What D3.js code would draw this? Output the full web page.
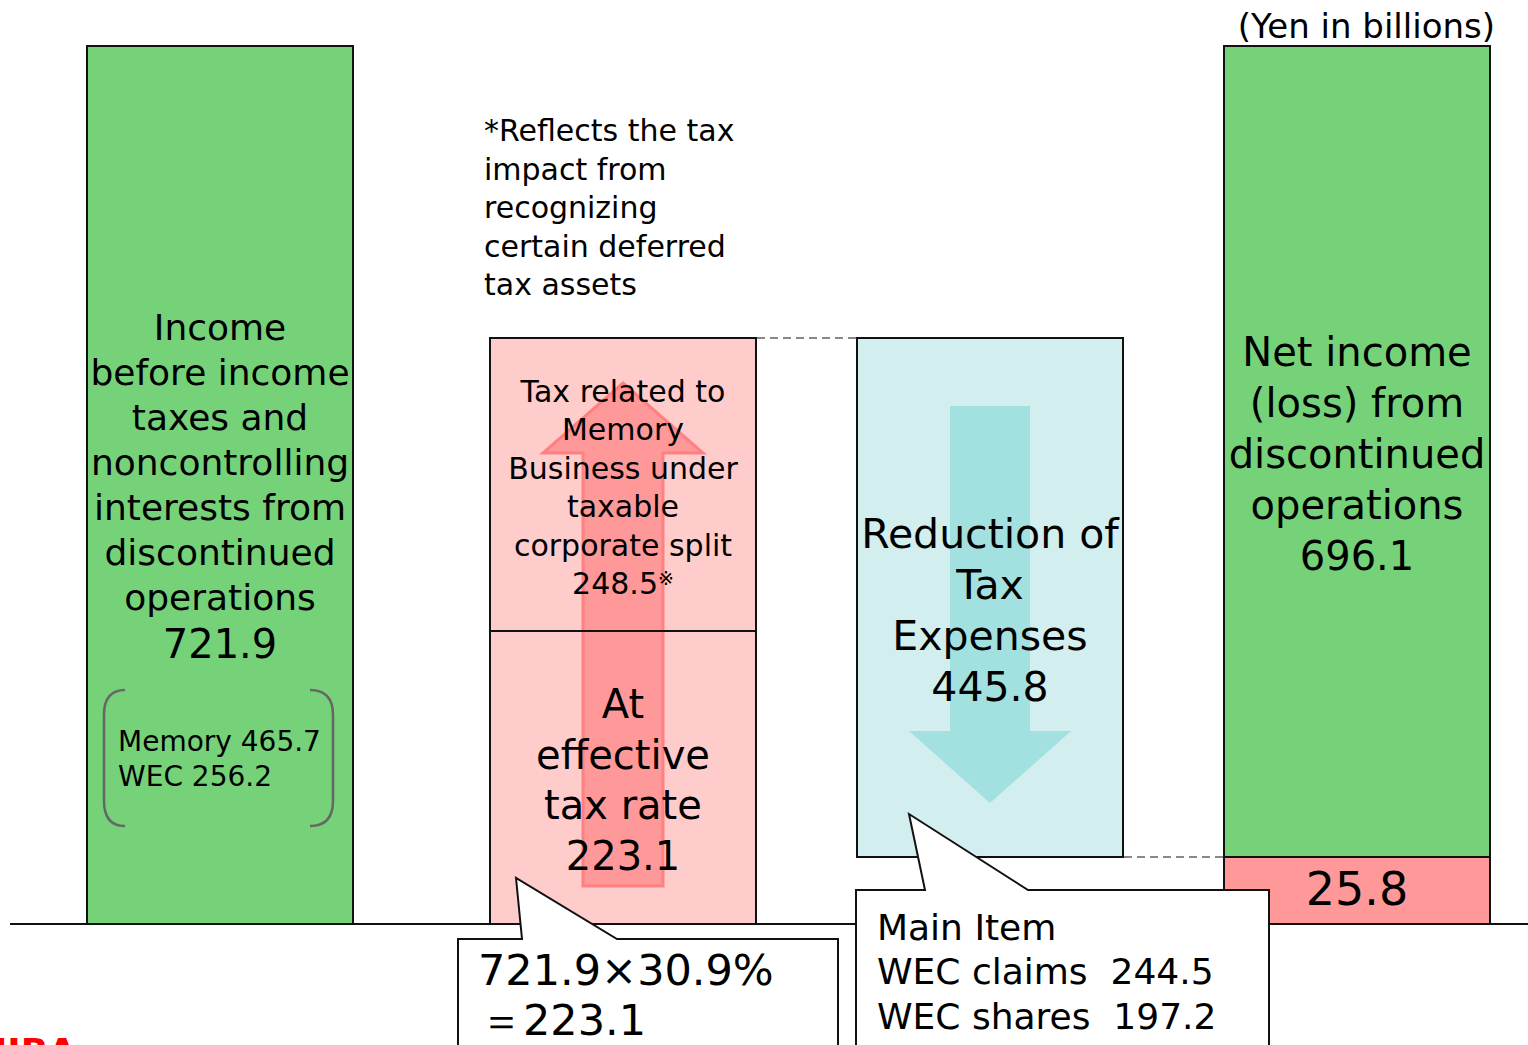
<!DOCTYPE html>
<html>
<head>
<meta charset="utf-8">
<script src="https://cdn.jsdelivr.net/npm/d3@7"></script>
<style>
	body { margin: 0; background: #fff; }
	svg { display: block; font-family: "DejaVu Sans", Verdana, sans-serif; }
	.pre { white-space: pre; }
</style>
</head>
<body>
<div id="chart"></div>
<script>
var steps = ["income", "tax", "reduction", "net"],
	incomeTotal = 721.9,
	incomeParts = [465.7, 256.2],      // Memory, WEC
	incomePartNames = ["Memory", "WEC"],
	taxParts = [223.1, 248.5],         // at effective tax rate, memory split
	effectiveRate = 30.9,
	reductionTotal = 445.8,
	reductionItems = [244.5, 197.2],   // WEC claims, WEC shares
	reductionNames = ["WEC claims", "WEC shares"],
	netParts = [25.8, 696.1];          // net tax expense, net income

var SVGwidth = 1528,
	SVGheight = 1045,
	barW = 266,
	green = "#75d279",
	pink = "#ffcccc",
	red = "#ff9999",
	cyan = "#d2eeee";

var taxTotal = taxParts[0] + taxParts[1];

var svg = d3.select("#chart").append("svg")
	.attr("width", SVGwidth)
	.attr("height", SVGheight);

// schematic, not to scale: piecewise linear through the stacked stops
var yScale = d3.scaleLinear()
	.domain([0, netParts[0], taxParts[0], taxTotal, incomeTotal])
	.range([924, 857, 631, 338, 46]);

var xScale = d3.scaleOrdinal()
	.domain(steps)
	.range([87, 490, 857, 1224]);

function cx(s) { return xScale(s) + barW / 2; }

var bars = [
	{step: "income", y0: 0, y1: incomeTotal, fill: green},
	{step: "tax", y0: 0, y1: taxParts[0], fill: pink},
	{step: "tax", y0: taxParts[0], y1: taxTotal, fill: pink},
	{step: "reduction", y0: taxTotal - reductionTotal, y1: taxTotal, fill: cyan},
	{step: "net", y0: 0, y1: netParts[0], fill: red},
	{step: "net", y0: netParts[0], y1: netParts[0] + netParts[1], fill: green}
];

// bar fills
svg.append("g").selectAll("rect")
	.data(bars)
	.enter().append("rect")
	.attr("x", function(d) { return xScale(d.step); })
	.attr("y", function(d) { return yScale(d.y1); })
	.attr("width", barW)
	.attr("height", function(d) { return yScale(d.y0) - yScale(d.y1); })
	.attr("fill", function(d) { return d.fill; });

// arrows
var ax = cx("tax"), shaft = 40, head = 80;
var upArrow = [
	[ax - shaft, yScale(0) - 38], [ax - shaft, yScale(taxTotal) + 115], [ax - head, yScale(taxTotal) + 115],
	[ax, yScale(taxTotal) + 45], [ax + head, yScale(taxTotal) + 115], [ax + shaft, yScale(taxTotal) + 115],
	[ax + shaft, yScale(0) - 38]
];
svg.append("path")
	.attr("d", d3.line()(upArrow) + "Z")
	.attr("fill", "#ff9999")
	.attr("stroke", "#ff8080")
	.attr("stroke-width", 3);

var bx = cx("reduction"), bTop = yScale(taxTotal) + 68, bTip = yScale(netParts[0]) - 54;
var downArrow = [
	[bx - shaft, bTop], [bx + shaft, bTop], [bx + shaft, bTip - 72], [bx + head + 1, bTip - 72],
	[bx, bTip], [bx - head - 1, bTip - 72], [bx - shaft, bTip - 72]
];
svg.append("path")
	.attr("d", d3.line()(downArrow) + "Z")
	.attr("fill", "#a3e0e0");

// bar outlines on top of arrows
svg.append("g").selectAll("rect")
	.data(bars)
	.enter().append("rect")
	.attr("x", function(d) { return xScale(d.step); })
	.attr("y", function(d) { return yScale(d.y1); })
	.attr("width", barW)
	.attr("height", function(d) { return yScale(d.y0) - yScale(d.y1); })
	.attr("fill", "none")
	.attr("stroke", "#111")
	.attr("stroke-width", 2);

// baseline
svg.append("line")
	.attr("x1", 10).attr("x2", SVGwidth)
	.attr("y1", yScale(0)).attr("y2", yScale(0))
	.attr("stroke", "#111")
	.attr("stroke-width", 2);

// dashed connectors
var connectors = [
	{from: "tax", to: "reduction", v: taxTotal},
	{from: "reduction", to: "net", v: netParts[0]}
];
svg.append("g").selectAll("line")
	.data(connectors)
	.enter().append("line")
	.attr("x1", function(d) { return xScale(d.from) + barW + 1; })
	.attr("x2", function(d) { return xScale(d.to) - 1; })
	.attr("y1", function(d) { return yScale(d.v); })
	.attr("y2", function(d) { return yScale(d.v); })
	.attr("stroke", "#888")
	.attr("stroke-width", 2)
	.attr("stroke-dasharray", "8,5");

// centered multi-line label helper
function label(x, y0, step, size, lines) {
	var t = svg.append("text")
		.attr("text-anchor", "middle")
		.attr("font-size", size)
		.attr("fill", "#000");
	lines.forEach(function(l, i) {
		t.append("tspan")
			.attr("x", x)
			.attr("y", y0 + i * step + size * 0.36)
			.text(l);
	});
	return t;
}

label(cx("income"), 327, 45, 36, ["Income", "before income", "taxes and", "noncontrolling",
	"interests from", "discontinued", "operations"]);
label(cx("income"), 644, 0, 40, [d3.format(".1f")(incomeTotal)]);

// bracket with memory / WEC split
var brL = xScale("income") + 38, brR = xScale("income") + 223, brT = 690, brB = 826;
svg.append("path")
	.attr("d", "M" + brL + "," + brT + " Q" + (brL - 21) + "," + brT + " " + (brL - 21) + "," + (brT + 25) +
		" L" + (brL - 21) + "," + (brB - 25) + " Q" + (brL - 21) + "," + brB + " " + brL + "," + brB)
	.attr("fill", "none").attr("stroke", "#666").attr("stroke-width", 2.5);
svg.append("path")
	.attr("d", "M" + brR + "," + brT + " Q" + (brR + 23) + "," + brT + " " + (brR + 23) + "," + (brT + 25) +
		" L" + (brR + 23) + "," + (brB - 25) + " Q" + (brR + 23) + "," + brB + " " + brR + "," + brB)
	.attr("fill", "none").attr("stroke", "#666").attr("stroke-width", 2.5);
svg.append("g").selectAll("text")
	.data(incomeParts)
	.enter().append("text")
	.attr("x", xScale("income") + 31)
	.attr("y", function(d, i) { return 741 + i * 35 + 10; })
	.attr("font-size", 28)
	.text(function(d, i) { return incomePartNames[i] + " " + d3.format(".1f")(d); });

// tax bar labels
var memLbl = label(cx("tax"), 391, 38.5, 30, ["Tax related to", "Memory", "Business under", "taxable", "corporate split", ""]);
memLbl.select("tspan:last-child")
	.text(d3.format(".1f")(taxParts[1]))
	.append("tspan")
	.attr("font-size", 19)
	.attr("dy", -9)
	.text("※");
label(cx("tax"), 704, 50.5, 40, ["At", "effective", "tax rate", d3.format(".1f")(taxParts[0])]);

// footnote
var note = svg.append("text").attr("font-size", 30);
["*Reflects the tax", "impact from", "recognizing", "certain deferred", "tax assets"].forEach(function(l, i) {
	note.append("tspan").attr("x", 484).attr("y", 130 + i * 38.5 + 11).text(l);
});

// reduction label
label(cx("reduction"), 533, 51, 41, ["Reduction of", "Tax", "Expenses", d3.format(".1f")(reductionTotal)]);

// net income label
label(cx("net"), 352, 51, 40, ["Net income", "(loss) from", "discontinued", "operations", d3.format(".1f")(netParts[1])]);
label(cx("net"), 888, 0, 46, [d3.format(".1f")(netParts[0])]);

// unit
svg.append("text")
	.attr("x", 1495).attr("y", 38)
	.attr("text-anchor", "end")
	.attr("font-size", 34)
	.text("(Yen in billions)");

// callouts
var c1 = "M458,1070 L458,939 L522,939 L516,878 L617,939 L838,939 L838,1070";
svg.append("path").attr("d", c1).attr("fill", "#fff").attr("stroke", "#111").attr("stroke-width", 2);
svg.append("text").attr("x", 478).attr("y", 970 + 15).attr("font-size", 43)
	.text(d3.format(".1f")(incomeTotal) + "×" + d3.format(".1f")(effectiveRate) + "%");
svg.append("text").attr("x", 480).attr("y", 1020 + 15).attr("font-size", 43)
	.text("＝" + d3.format(".1f")(taxParts[0]));

var c2 = "M856,1070 L856,890 L925,890 L909,814 L1028,890 L1269,890 L1269,1070";
svg.append("path").attr("d", c2).attr("fill", "#fff").attr("stroke", "#111").attr("stroke-width", 2);
var c2t = svg.append("text").attr("font-size", 36).attr("class", "pre");
c2t.append("tspan").attr("x", 877).attr("y", 927 + 13).text("Main Item");
reductionItems.forEach(function(v, i) {
	c2t.append("tspan").attr("x", 877).attr("y", 971 + i * 45 + 13)
		.text(reductionNames[i] + "  " + d3.format(".1f")(v));
});

// logo at bottom-left, clipped by the page edge as in the slide
svg.append("text")
	.attr("x", 76).attr("y", 1064)
	.attr("text-anchor", "end")
	.attr("font-size", 36)
	.attr("font-weight", "bold")
	.attr("fill", "#ff0000")
	.text("TOSHIBA");
</script>
</body>
</html>
